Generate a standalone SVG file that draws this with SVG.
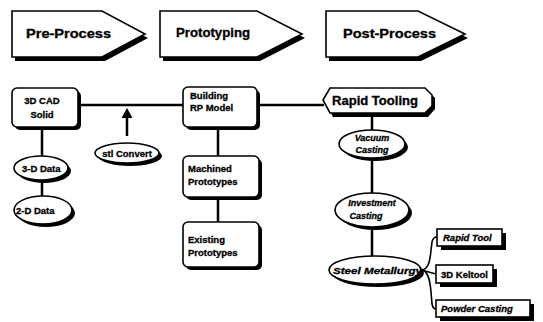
<svg xmlns="http://www.w3.org/2000/svg" width="543" height="322" viewBox="0 0 543 322">
<style>
.t{font-family:"Liberation Sans",Arial,sans-serif;font-weight:bold;fill:#000;stroke:#000;stroke-width:0.3}
.i{font-style:italic}
.b{fill:#fff;stroke:#000;stroke-width:1.6}
.s{fill:#000;stroke:none}
.ln{stroke:#000;stroke-width:2.5;fill:none}
.fn{stroke:#000;stroke-width:1.6;fill:none}
.h{font-size:12px}
.n{font-size:9.5px}
</style>
<rect width="543" height="322" fill="#fff"/>
<g id="banner-pre">
<polygon class="s" points="15,15 105,15 148,38 105,61 15,61"/>
<polygon class="b" points="12,11 102,11 145,34 102,57 12,57"/>
<text class="t h" x="26" y="38" textLength="85" lengthAdjust="spacingAndGlyphs">Pre-Process</text>
</g>
<g id="banner-proto">
<polygon class="s" points="163,15 260,15 305,38 260,61 163,61"/>
<polygon class="b" points="160,11 257,11 302,34 257,57 160,57"/>
<text class="t h" x="176" y="37" textLength="74" lengthAdjust="spacingAndGlyphs">Prototyping</text>
</g>
<g id="banner-post">
<polygon class="s" points="329,15 421,15 468,38 421,61 329,61"/>
<polygon class="b" points="326,11 418,11 465,34 418,57 326,57"/>
<text class="t h" x="343" y="38" textLength="93" lengthAdjust="spacingAndGlyphs">Post-Process</text>
</g>
<g id="connectors">
<line class="ln" x1="78" y1="105" x2="183" y2="105"/>
<line class="ln" x1="257" y1="105" x2="324" y2="105"/>
<line class="ln" x1="42" y1="127" x2="42" y2="156"/>
<line class="ln" x1="42" y1="180" x2="42" y2="196"/>
<line class="ln" x1="127" y1="116" x2="127" y2="136"/>
<polygon class="s" points="121.5,118 127,108 132.5,118"/>
<line class="ln" x1="218" y1="127" x2="218" y2="156"/>
<line class="ln" x1="218" y1="197" x2="218" y2="222"/>
<line class="ln" x1="372" y1="113" x2="372" y2="130"/>
<line class="ln" x1="372" y1="158" x2="372" y2="193"/>
<line class="ln" x1="372" y1="227" x2="372" y2="256"/>
<path class="fn" d="M421,270 C428,270 430,262 431,250 L432,242 Q433,237 437,237"/>
<path class="fn" d="M421,270 L436,274"/>
<path class="fn" d="M421,270 C428,270 430,280 431,292 L432,304 Q433,309 436,309"/>
</g>
<g id="cad">
<rect class="s" x="15" y="91" width="66" height="39" rx="5"/>
<rect class="b" x="12" y="88" width="66" height="39" rx="5"/>
<text class="t n" x="42" y="104" text-anchor="middle" font-size="10.5">3D CAD</text>
<text class="t n" x="42" y="118" text-anchor="middle" font-size="10.5">Solid</text>
</g>
<g id="data3d">
<ellipse class="s" cx="44" cy="171" rx="27" ry="12"/>
<ellipse class="b" cx="41" cy="168" rx="27" ry="12"/>
<text class="t n" x="22" y="172" font-size="10">3-D Data</text>
</g>
<g id="data2d">
<ellipse class="s" cx="46" cy="213" rx="29" ry="14"/>
<ellipse class="b" cx="43" cy="210" rx="29" ry="14"/>
<text class="t n" x="16" y="214" font-size="10">2-D Data</text>
</g>
<g id="stl">
<ellipse class="s" cx="130" cy="156" rx="32" ry="10"/>
<ellipse class="b" cx="127" cy="153" rx="32" ry="10"/>
<text class="t n" x="127" y="157" text-anchor="middle">stl Convert</text>
</g>
<g id="building">
<rect class="s" x="186" y="90" width="74" height="40" rx="5"/>
<rect class="b" x="183" y="87" width="74" height="40" rx="5"/>
<text class="t n" x="190" y="99">Building</text>
<text class="t n" x="190" y="111">RP Model</text>
</g>
<g id="machined">
<rect class="s" x="186" y="159" width="76" height="41" rx="5"/>
<rect class="b" x="183" y="156" width="76" height="41" rx="5"/>
<text class="t n" x="188" y="172">Machined</text>
<text class="t n" x="188" y="185">Prototypes</text>
</g>
<g id="existing">
<rect class="s" x="186" y="225" width="76" height="45" rx="5"/>
<rect class="b" x="183" y="222" width="76" height="45" rx="5"/>
<text class="t n" x="188" y="243">Existing</text>
<text class="t n" x="188" y="256">Prototypes</text>
</g>
<g id="rapid-tooling">
<polygon class="s" points="326,104 333,91 428,91 435,98 435,109 428,117 333,117"/>
<polygon class="b" points="323,100 330,88 425,88 432,95 432,106 425,113 330,113"/>
<text class="t" x="332" y="105" font-size="12" textLength="86" lengthAdjust="spacingAndGlyphs">Rapid Tooling</text>
</g>
<g id="vacuum">
<ellipse class="s" cx="375" cy="147" rx="33" ry="14"/>
<ellipse class="b" cx="372" cy="144" rx="33" ry="14"/>
<text class="t i" x="372" y="141" text-anchor="middle" font-size="9">Vacuum</text>
<text class="t i" x="372" y="153" text-anchor="middle" font-size="9">Casting</text>
</g>
<g id="investment">
<ellipse class="s" cx="375" cy="213" rx="37" ry="17"/>
<ellipse class="b" cx="372" cy="210" rx="37" ry="17"/>
<text class="t i" x="372" y="206" text-anchor="middle" font-size="9">Investment</text>
<text class="t i" x="366" y="219" text-anchor="middle" font-size="9">Casting</text>
</g>
<g id="steel">
<ellipse class="s" cx="378" cy="273" rx="46" ry="14"/>
<ellipse class="b" cx="375" cy="270" rx="46" ry="14"/>
<text class="t i" x="333" y="274" font-size="9.5" textLength="89" lengthAdjust="spacingAndGlyphs">Steel Metallurgy</text>
</g>
<g id="rapid-tool">
<rect class="s" x="441" y="233" width="65" height="17"/>
<rect class="b" x="437" y="229" width="65" height="17"/>
<text class="t i n" x="443" y="241">Rapid Tool</text>
</g>
<g id="keltool">
<rect class="s" x="440" y="269" width="57" height="18"/>
<rect class="b" x="436" y="265" width="57" height="18"/>
<text class="t n" x="441" y="278">3D Keltool</text>
</g>
<g id="powder">
<rect class="s" x="440" y="304" width="94" height="17"/>
<rect class="b" x="436" y="300" width="94" height="17"/>
<text class="t i n" x="441" y="312">Powder Casting</text>
</g>
</svg>
